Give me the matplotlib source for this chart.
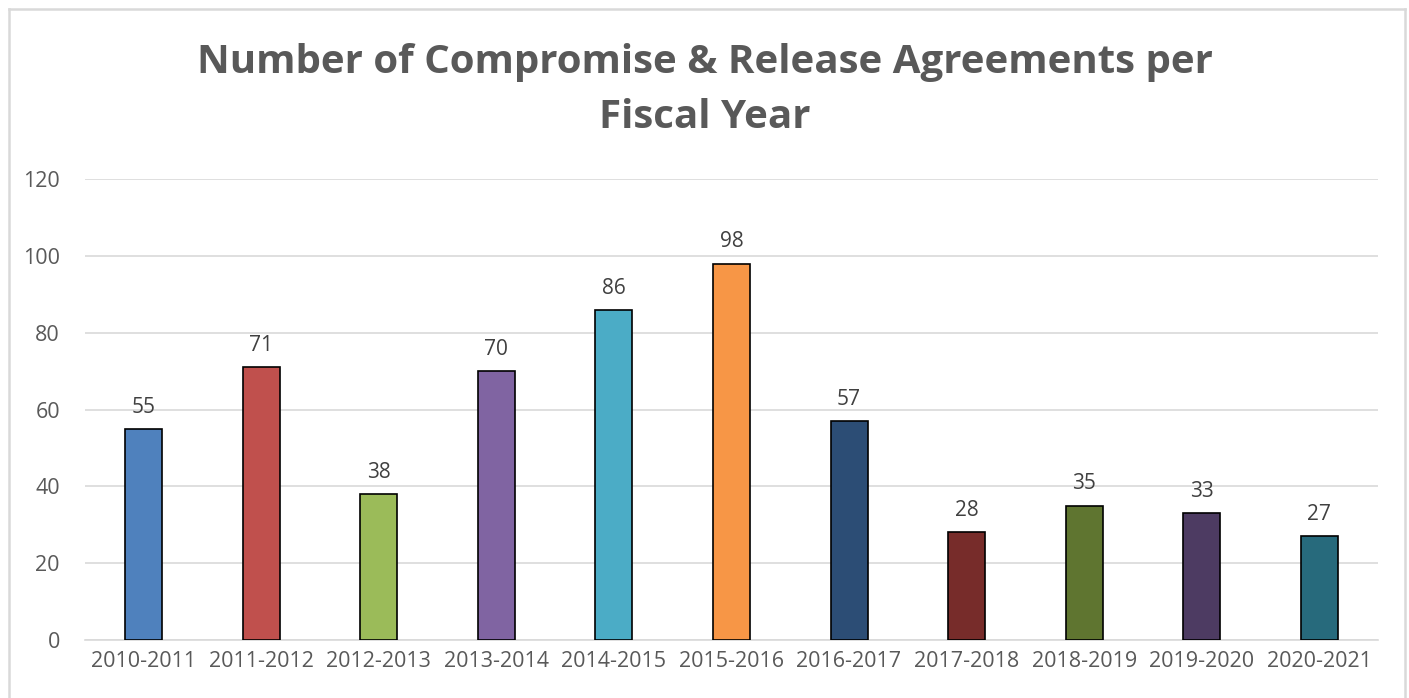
import matplotlib.pyplot as plt
from matplotlib.lines import Line2D

# fiscal years and C&R agreement counts
years = ["2010-2011", "2011-2012", "2012-2013", "2013-2014", "2014-2015", "2015-2016",
         "2016-2017", "2017-2018", "2018-2019", "2019-2020", "2020-2021"]
counts = [55, 71, 38, 70, 86, 98, 57, 28, 35, 33, 27]
bar_colors = ["#4F81BD", "#C0504D", "#9BBB59", "#8064A2", "#4BACC6", "#F79646",
              "#2C4D75", "#772C2A", "#5F7530", "#4D3B62", "#276A7C"]

plt.rcParams['font.family'] = ['Open Sans', 'DejaVu Sans']

fig = plt.figure(figsize=(14.09, 6.98), dpi=100)
ax = fig.add_axes([0.0603, 0.083, 0.9177, 0.6606])

x = range(len(years))
bars = ax.bar(x, counts, width=0.315, color=bar_colors, edgecolor='black', linewidth=1.2, zorder=3)

for bar, v in zip(bars, counts):
    ax.annotate(str(v), (bar.get_x() + bar.get_width() / 2, v), xytext=(0, 8),
                textcoords='offset points', ha='center', va='bottom',
                fontsize=15, color='#404040')

ax.set_ylim(0, 120)
ax.set_xlim(-0.5, len(years) - 0.5)
ax.set_yticks(range(0, 121, 20))
ax.set_xticks(list(x))
ax.set_xticklabels(years)
ax.tick_params(axis='both', length=0, labelsize=15.5, labelcolor='#595959')
ax.tick_params(axis='x', pad=8)
ax.tick_params(axis='y', pad=18)
ax.yaxis.grid(True, color='#D9D9D9', linewidth=1.2, zorder=0)
ax.set_axisbelow(True)
for s in ['top', 'right', 'left']:
    ax.spines[s].set_visible(False)
ax.spines['bottom'].set_color('#D9D9D9')
ax.spines['bottom'].set_linewidth(1.2)

fig.text(0.5, 0.911, "Number of Compromise & Release Agreements per", ha='center', va='center',
         fontsize=29, fontweight='bold', color='#595959')
fig.text(0.5, 0.831, "Fiscal Year", ha='center', va='center',
         fontsize=29, fontweight='bold', color='#595959')

# chart frame: left, top, right (bottom edge is cut off)
x0, x1, ytop = 8.5 / 1409, 1405 / 1409, 1 - 9 / 698
for xs, ys in [([x0, x0], [0, ytop]), ([x0, x1], [ytop, ytop]), ([x1, x1], [ytop, 0])]:
    fig.lines.append(Line2D(xs, ys, transform=fig.transFigure, color='#D9D9D9', linewidth=1.8))

fig.savefig("out.png", dpi=100)
